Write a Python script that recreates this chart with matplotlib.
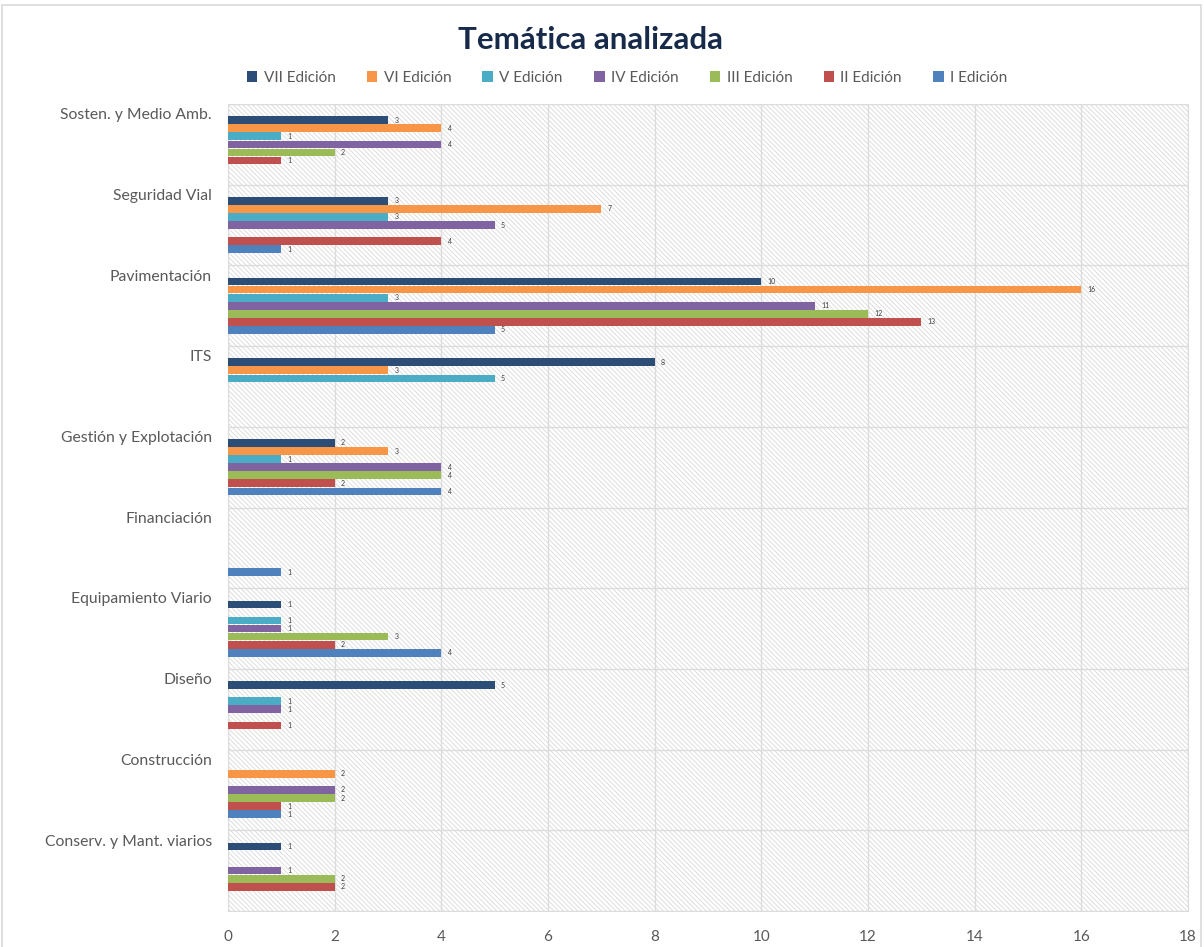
import matplotlib
matplotlib.use("Agg")
import matplotlib.pyplot as plt
from matplotlib.patches import Rectangle, Patch
import numpy as np

plt.rcParams['font.family'] = ['Lato', 'DejaVu Sans']
plt.rcParams['hatch.linewidth'] = 0.6

categories = ["Sosten. y Medio Amb.", "Seguridad Vial", "Pavimentación", "ITS",
              "Gestión y Explotación", "Financiación", "Equipamiento Viario",
              "Diseño", "Construcción", "Conserv. y Mant. viarios"]
series_names = ["VII Edición", "VI Edición", "V Edición", "IV Edición",
                "III Edición", "II Edición", "I Edición"]
vii = [3, 3, 10, 8, 2, 0, 1, 5, 0, 1]
vi = [4, 7, 16, 3, 3, 0, 0, 0, 2, 0]
v = [1, 3, 3, 5, 1, 0, 1, 1, 0, 0]
iv = [4, 5, 11, 0, 4, 0, 1, 1, 2, 1]
iii = [2, 0, 12, 0, 4, 0, 3, 0, 2, 2]
ii = [1, 4, 13, 0, 2, 0, 2, 1, 1, 2]
i_ed = [0, 1, 5, 0, 4, 1, 4, 0, 1, 0]
series_values = [vii, vi, v, iv, iii, ii, i_ed]
colors = ["#2C4D75", "#F79646", "#4BACC6", "#8064A2", "#9BBB59", "#C0504D", "#4F81BD"]
xticks = [0, 2, 4, 6, 8, 10, 12, 14, 16, 18]

fig = plt.figure(figsize=(12.04, 9.47), dpi=100)

# outer chart border
fig.patches.append(Rectangle((2/1204, -0.01), 1199/1204, 1.01 - 5/947,
                             transform=fig.transFigure, facecolor="none",
                             edgecolor="#D9D9D9", linewidth=1.2))

ax = fig.add_axes([228/1204, 1-911/947, 960/1204, 807/947])

# hatched background
bg = Rectangle((0, 0), 1, 1, transform=ax.transAxes, facecolor="white",
               edgecolor="#D9D9D9", hatch="\\" * 7, linewidth=0, zorder=0)
ax.add_patch(bg)

n = len(categories)
gray = "#595959"
for k, (vals, col) in enumerate(zip(series_values, colors)):
    for ci, val in enumerate(vals):
        if val == 0:
            continue
        y = ci + 0.2 + 0.1 * k
        ax.barh(y, val, height=0.095, color=col, zorder=3)
        ax.text(val + 0.12, y, str(val), fontsize=5, color="#404040",
                va="center", ha="left", zorder=4)

ax.set_xlim(0, 18)
ax.set_ylim(n, 0)
ax.set_xticks(xticks)
ax.set_xticklabels([str(t) for t in xticks], fontsize=11, color=gray)
ax.set_yticks([])
for x in xticks:
    ax.axvline(x, color="#DCDCDC", lw=1, zorder=1)
for yb in range(n + 1):
    ax.axhline(yb, color="#DCDCDC", lw=1, zorder=1)
for s in ax.spines.values():
    s.set_color("#DCDCDC")
ax.tick_params(axis="x", length=0, pad=14)

for ci, cat in enumerate(categories):
    ax.text(-0.3, ci + 0.14, cat, fontsize=11.3, color=gray, ha="right", va="center")

fig.text(590/1204, 1-40/947, "Temática analizada", fontsize=22.5, fontweight="bold",
         color="#172A4A", ha="center", va="center")

handles = [Patch(facecolor=c, edgecolor="none") for c in colors]
fig.legend(handles, series_names, loc="center", bbox_to_anchor=(627/1204, 1-78/947),
           ncol=7, frameon=False, fontsize=11, labelcolor=gray,
           handlelength=0.7, handleheight=0.7, handletextpad=0.4, columnspacing=2.05)

fig.savefig("out.png", dpi=100)
